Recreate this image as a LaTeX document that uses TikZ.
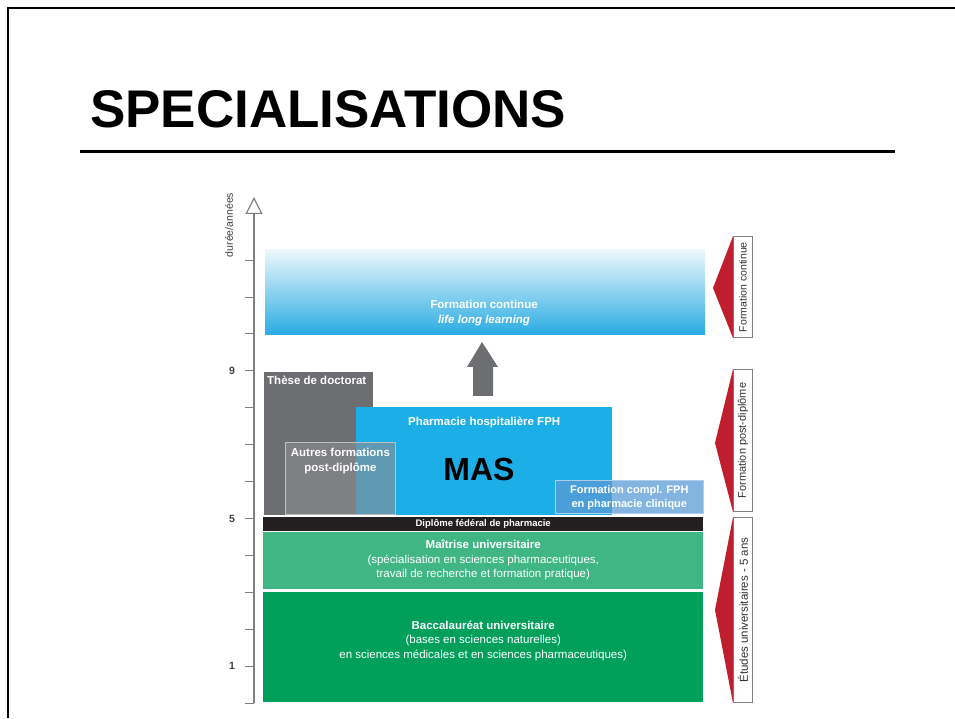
\documentclass[tikz,border=0pt]{standalone}
\usepackage{fontspec}
\setmainfont{Liberation Sans}
\usetikzlibrary{positioning,arrows.meta}

\definecolor{cyanfph}{RGB}{28,174,230}
\definecolor{cyanfc}{RGB}{41,171,226}
\definecolor{grisdoc}{RGB}{109,110,113}
\definecolor{grisautres}{RGB}{140,141,144}
\definecolor{bleucompl}{RGB}{91,155,213}
\definecolor{noirdip}{RGB}{35,31,32}
\definecolor{vertmaitrise}{RGB}{64,182,133}
\definecolor{vertbac}{RGB}{0,160,90}
\definecolor{rougeetape}{RGB}{190,30,45}
\definecolor{grisaxe}{RGB}{128,128,128}

\begin{document}
\begin{tikzpicture}[x=1pt, y=1pt,
  block/.style={inner sep=0pt, anchor=south west},
  whitetxt/.style={text=white, align=center, inner sep=0pt, font=\fontsize{11.5}{14.5}\selectfont},
  boldtxt/.style={whitetxt, font=\fontsize{11.5}{14.5}\selectfont\bfseries},
  sidebox/.style={draw=grisaxe, fill=white, line width=0.8pt, minimum width=19pt, inner sep=0pt, anchor=south west},
  sidetxt/.style={rotate=90, text=black!80, font=\fontsize{10.5}{12}\selectfont, inner sep=0pt},
  ticklbl/.style={text=black!75, font=\fontsize{10.5}{12}\selectfont\bfseries, inner sep=0pt}]

\useasboundingbox (0,0) rectangle (955,718);

% cadre et titre
\draw[line width=2.5pt] (8,0) -- (8,710) -- (955,710);
\node[anchor=base west, inner sep=0pt, font=\fontsize{53}{60}\selectfont\bfseries] (titre) at (90,590) {SPECIALISATIONS};
\coordinate (regleG) at (80,566);
\coordinate (regleD) at (895,566);
\draw[line width=3pt] (regleG) -- (regleD);

% axe des annees
\coordinate (axebas) at (254,15);
\coordinate (axehaut) at (254,521);
\draw[grisaxe, line width=1.2pt, -{Triangle[open, length=17pt, width=17pt]}] (axebas) -- (axehaut);
\foreach \k in {0,...,12}
  \draw[grisaxe, line width=1pt] (245,{15+36.9*\k}) -- (254,{15+36.9*\k});
\foreach \k in {1,5,9}
  \node[ticklbl] (an\k) at (232,{15+36.9*\k}) {\k};
\node[ticklbl, rotate=90, font=\fontsize{10.5}{12}\selectfont] (axetitre) at (229,493) {durée/années};

% formation continue
\node[block, minimum width=440pt, minimum height=85pt, top color=cyanfc!8, bottom color=cyanfc] (continue) at (265,383) {};
\node[boldtxt] (continuetxt) at (484,405) {Formation continue\\\textit{life long learning}};
\coordinate (flechebas) at (483,322);
\fill[grisdoc] (flechebas) ++(-10,0) -- ++(0,29) -- ++(-6,0) -- (482,376) -- (498,351) -- (493,351) -- (493,322) -- cycle;

% formations post-diplome
\node[block, fill=grisdoc, minimum width=109pt, minimum height=143pt] (these) at (264,203) {};
\node[boldtxt, anchor=north west] (thesetxt) at ([xshift=3pt, yshift=-4pt]these.north west) {Thèse de doctorat};
\node[block, fill=cyanfph, minimum width=256pt, minimum height=108pt] (fph) at (356,203) {};
\node[boldtxt, below=10.5pt of fph.north] (fphtxt) {Pharmacie hospitalière FPH};
\node[block, fill=grisautres, fill opacity=0.6, draw=black!25, line width=0.8pt, minimum width=110pt, minimum height=72pt] (autres) at (285,203) {};
\node[boldtxt, below=6pt of autres.north] (autrestxt) {Autres formations\\post-diplôme};
\node[font=\fontsize{32}{36}\selectfont\bfseries, inner sep=0pt] (mas) at (479,249) {MAS};
\node[block, fill=bleucompl, fill opacity=0.75, draw=bleucompl!50, line width=0.6pt, minimum width=148pt, minimum height=33pt] (compl) at (555,204) {};
\node[boldtxt, font=\fontsize{11}{14}\selectfont\bfseries] (compltxt) at (compl.center) {Formation compl. FPH\\en pharmacie clinique};

% etudes universitaires
\node[block, fill=noirdip, minimum width=440pt, minimum height=14pt, boldtxt, font=\fontsize{9.5}{11}\selectfont\bfseries] (diplome) at (263,187) {Diplôme fédéral de pharmacie};
\node[block, fill=vertmaitrise, minimum width=440pt, minimum height=57pt, whitetxt] (maitrise) at (263,129)
  {\textbf{Maîtrise universitaire}\\(spécialisation en sciences pharmaceutiques,\\travail de recherche et formation pratique)};
\node[block, fill=vertbac, minimum width=440pt, minimum height=110pt] (bac) at (263,16) {};
\node[whitetxt] (bactxt) at ([yshift=6pt]bac.center)
  {\textbf{Baccalauréat universitaire}\\(bases en sciences naturelles)\\en sciences médicales et en sciences pharmaceutiques)};

% etapes a droite
\node[sidebox, minimum height=101pt] (cadrecontinue) at (733,380) {};
\node[sidetxt] (etapecontinue) at (cadrecontinue.center) {Formation continue};
\coordinate (pointecontinue) at (713,430);
\fill[rougeetape] (cadrecontinue.north west) -- (pointecontinue) -- (cadrecontinue.south west) -- cycle;

\node[sidebox, minimum height=142pt] (cadrepost) at (733,206) {};
\node[sidetxt, font=\fontsize{11}{12}\selectfont] (etapepost) at (cadrepost.center) {Formation post-diplôme};
\coordinate (pointepost) at (715,275);
\fill[rougeetape] (cadrepost.north west) -- (pointepost) -- (cadrepost.south west) -- cycle;

\node[sidebox, minimum height=185pt] (cadreetudes) at (733,15) {};
\node[sidetxt, font=\fontsize{11.5}{12}\selectfont] (etapeetudes) at (cadreetudes.center) {Études universitaires - 5 ans};
\coordinate (pointeetudes) at (715,108);
\fill[rougeetape] (cadreetudes.north west) -- (pointeetudes) -- (cadreetudes.south west) -- cycle;
\end{tikzpicture}
\end{document}
